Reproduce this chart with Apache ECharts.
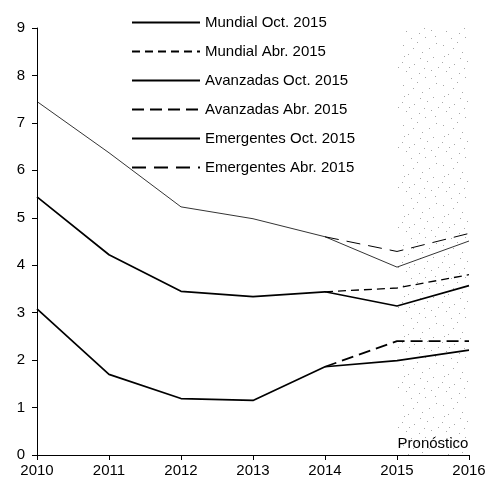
<!DOCTYPE html>
<html>
<head>
<meta charset="utf-8">
<script src="https://cdn.jsdelivr.net/npm/echarts@6/dist/echarts.min.js"></script>
<style>
html,body{margin:0;padding:0;background:#fff;}
#main{width:492px;height:480px;}
</style>
</head>
<body>
<div id="main"></div>
<script>
var years = ['2010', '2011', '2012', '2013', '2014', '2015', '2016'];
var mundialOct = [5.44, 4.22, 3.45, 3.34, 3.44, 3.14, 3.57];
var mundialAbr = [null, null, null, null, 3.44, 3.52, 3.8];
var avanzadasOct = [3.08, 1.7, 1.19, 1.15, 1.86, 1.99, 2.21];
var avanzadasAbr = [null, null, null, null, 1.86, 2.4, 2.4];
var emergentesOct = [7.45, 6.37, 5.23, 4.98, 4.6, 3.96, 4.51];
var emergentesAbr = [null, null, null, null, 4.6, 4.29, 4.67];
var yTicks = [0, 1, 2, 3, 4, 5, 6, 7, 8, 9];

// textura punteada para la zona de pronóstico
var pat = document.createElement('canvas');
pat.width = 40; pat.height = 40;
var ctx = pat.getContext('2d');
ctx.fillStyle = '#fff';
ctx.fillRect(0, 0, 40, 40);
ctx.fillStyle = '#a8a8a8';
var dots = [[3,5],[17,2],[29,8],[36,3],[8,14],[22,12],[33,17],[2,22],[14,24],[27,21],[38,27],[6,31],[19,33],[31,30],[11,38],[25,37],[35,36],[13,8],[24,28],[4,16],[20,18],[9,27]];
for (var i = 0; i < dots.length; i++) ctx.fillRect(dots[i][0], dots[i][1], 1, 1);

var myChart = echarts.init(document.getElementById('main'));
var font = 'Liberation Sans, Arial, sans-serif';

function serie(name, data, width, type) {
	return {
		name: name,
		type: 'line',
		data: data,
		symbol: 'none',
		smooth: false,
		connectNulls: false,
		lineStyle: { color: '#000', width: width, type: type },
		itemStyle: { color: '#000' }
	};
}

var series = [
	serie('Mundial Oct. 2015', mundialOct, 1.7, 'solid'),
	serie('Mundial Abr. 2015', mundialAbr, 1.3, [8, 5]),
	serie('Avanzadas Oct. 2015', avanzadasOct, 1.7, 'solid'),
	serie('Avanzadas Abr. 2015', avanzadasAbr, 1.8, [12, 6]),
	serie('Emergentes Oct. 2015', emergentesOct, 0.8, 'solid'),
	serie('Emergentes Abr. 2015', emergentesAbr, 1, [14, 8])
];
series[0].markArea = {
	silent: true,
	itemStyle: { color: { image: pat, repeat: 'repeat' } },
	label: {
		show: true,
		position: 'insideBottom',
		distance: 4,
		color: '#000',
		fontFamily: font,
		fontSize: 15,
		formatter: 'Pronóstico'
	},
	data: [[{ xAxis: '2015' }, { xAxis: '2016' }]]
};

myChart.setOption({
	animation: false,
	backgroundColor: '#fff',
	grid: { left: 37, right: 23, top: 28, bottom: 25, containLabel: false },
	legend: {
		orient: 'vertical',
		left: 131,
		top: 15,
		itemWidth: 68,
		itemHeight: 14,
		itemGap: 14,
		padding: 0,
		itemStyle: { opacity: 0 },
		textStyle: { fontFamily: font, fontSize: 15, color: '#000' },
		data: series.map(function (s) { return s.name; })
	},
	xAxis: {
		type: 'category',
		boundaryGap: false,
		data: years,
		axisLine: { lineStyle: { color: '#000', width: 1 } },
		axisTick: { show: true, length: 5, lineStyle: { color: '#000' } },
		axisLabel: { color: '#000', fontFamily: font, fontSize: 15, margin: 8 },
		splitLine: { show: false }
	},
	yAxis: {
		type: 'value',
		min: 0,
		max: 9,
		interval: 1,
		axisLine: { show: true, lineStyle: { color: '#000', width: 1 } },
		axisTick: { show: true, length: 5, lineStyle: { color: '#000' } },
		axisLabel: { color: '#000', fontFamily: font, fontSize: 15, margin: 12,
			formatter: function (v) { return yTicks.indexOf(v) >= 0 ? String(v) : ''; } },
		splitLine: { show: false }
	},
	series: series
});
</script>
</body>
</html>
